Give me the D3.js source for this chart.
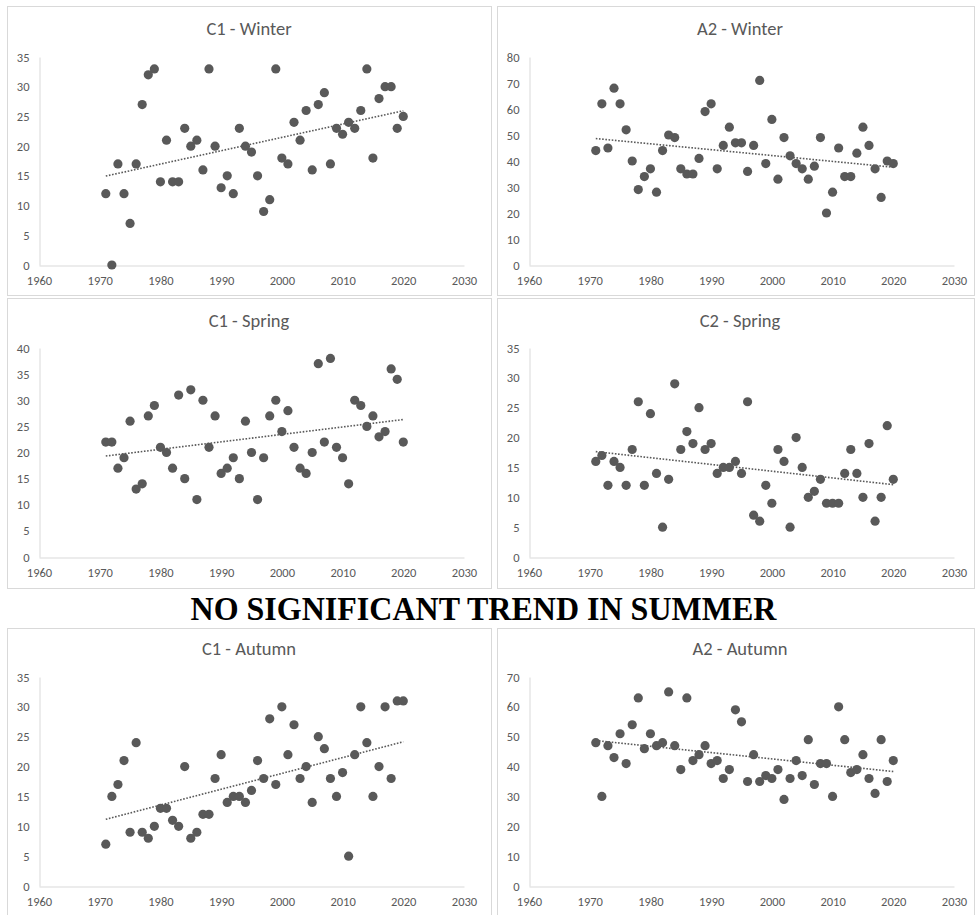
<!DOCTYPE html>
<html>
<head>
<meta charset="utf-8">
<script src="https://cdn.jsdelivr.net/npm/d3@7"></script>
<style>
  body { margin: 0; background: #fff; }
</style>
</head>
<body>
<svg id="chart"></svg>
<script>
// Data
const years = [1971, 1972, 1973, 1974, 1975, 1976, 1977, 1978, 1979, 1980,
  1981, 1982, 1983, 1984, 1985, 1986, 1987, 1988, 1989, 1990,
  1991, 1992, 1993, 1994, 1995, 1996, 1997, 1998, 1999, 2000,
  2001, 2002, 2003, 2004, 2005, 2006, 2007, 2008, 2009, 2010,
  2011, 2012, 2013, 2014, 2015, 2016, 2017, 2018, 2019, 2020];

const c1Winter = [12, 0, 17, 12, 7, 17, 27, 32, 33, 14,
  21, 14, 14, 23, 20, 21, 16, 33, 20, 13,
  15, 12, 23, 20, 19, 15, 9, 11, 33, 18,
  17, 24, 21, 26, 16, 27, 29, 17, 23, 22,
  24, 23, 26, 33, 18, 28, 30, 30, 23, 25];

const a2Winter = [44, 62, 45, 68, 62, 52, 40, 29, 34, 37,
  28, 44, 50, 49, 37, 35, 35, 41, 59, 62,
  37, 46, 53, 47, 47, 36, 46, 71, 39, 56,
  33, 49, 42, 39, 37, 33, 38, 49, 20, 28,
  45, 34, 34, 43, 53, 46, 37, 26, 40, 39];

const c1Spring = [22, 22, 17, 19, 26, 13, 14, 27, 29, 21,
  20, 17, 31, 15, 32, 11, 30, 21, 27, 16,
  17, 19, 15, 26, 20, 11, 19, 27, 30, 24,
  28, 21, 17, 16, 20, 37, 22, 38, 21, 19,
  14, 30, 29, 25, 27, 23, 24, 36, 34, 22];

const c2Spring = [16, 17, 12, 16, 15, 12, 18, 26, 12, 24,
  14, 5, 13, 29, 18, 21, 19, 25, 18, 19,
  14, 15, 15, 16, 14, 26, 7, 6, 12, 9,
  18, 16, 5, 20, 15, 10, 11, 13, 9, 9,
  9, 14, 18, 14, 10, 19, 6, 10, 22, 13];

const c1Autumn = [7, 15, 17, 21, 9, 24, 9, 8, 10, 13,
  13, 11, 10, 20, 8, 9, 12, 12, 18, 22,
  14, 15, 15, 14, 16, 21, 18, 28, 17, 30,
  22, 27, 18, 20, 14, 25, 23, 18, 15, 19,
  5, 22, 30, 24, 15, 20, 30, 18, 31, 31];

const a2Autumn = [48, 30, 47, 43, 51, 41, 54, 63, 46, 51,
  47, 48, 65, 47, 39, 63, 42, 44, 47, 41,
  42, 36, 39, 59, 55, 35, 44, 35, 37, 36,
  39, 29, 36, 42, 37, 49, 34, 41, 41, 30,
  60, 49, 38, 39, 44, 36, 31, 49, 35, 42];

const panelTitles = ["C1 - Winter", "A2 - Winter", "C1 - Spring", "C2 - Spring", "C1 - Autumn", "A2 - Autumn"];
const panelSeries = [c1Winter, a2Winter, c1Spring, c2Spring, c1Autumn, a2Autumn];
const yMaxes = [35, 80, 40, 35, 35, 70];
const yStepSizes = [5, 10, 5, 5, 5, 10];
const xTicks = [1960, 1970, 1980, 1990, 2000, 2010, 2020, 2030];
const noteText = "NO SIGNIFICANT TREND IN SUMMER";

const width = 975;
const height = 915;
const grey = "#595959";
const lineGrey = "#d9d9d9";
const labelFont = "Carlito, Calibri, Lato, sans-serif";

// panel geometry (columns / rows)
const cols = [
  { boxX: 7, boxW: 484, x0: 39, x1: 464, titleX: 249 },
  { boxX: 497, boxW: 477, x0: 529, x1: 954, titleX: 740 }
];
const rows = [
  { boxY: 6, boxH: 289, top: 57, bottom: 265, titleY: 35 },
  { boxY: 298, boxH: 290, top: 348, bottom: 557, titleY: 327 },
  { boxY: 628, boxH: 300, top: 677, bottom: 886, titleY: 655 }
];

const svg = d3.select("#chart")
  .attr("width", width)
  .attr("height", height)
  .style("display", "block");

svg.append("rect")
  .attr("width", width)
  .attr("height", height)
  .attr("fill", "#fff");

function linearFit(xs, ys) {
  const mx = d3.mean(xs);
  const my = d3.mean(ys);
  let num = 0, den = 0;
  xs.forEach((x, i) => {
    num += (x - mx) * (ys[i] - my);
    den += (x - mx) * (x - mx);
  });
  const slope = num / den;
  return x => my + slope * (x - mx);
}

function drawPanel(index) {
  const col = cols[index % 2];
  const row = rows[Math.floor(index / 2)];
  const values = panelSeries[index];

  const g = svg.append("g");

  // chart border
  g.append("rect")
    .attr("x", col.boxX + 0.5)
    .attr("y", row.boxY + 0.5)
    .attr("width", col.boxW)
    .attr("height", row.boxH)
    .attr("fill", "#fff")
    .attr("stroke", lineGrey)
    .attr("stroke-width", 1);

  const x = d3.scaleLinear().domain([1960, 2030]).range([col.x0, col.x1]);
  const y = d3.scaleLinear().domain([0, yMaxes[index]]).range([row.bottom, row.top]);

  // title
  g.append("text")
    .attr("x", col.titleX)
    .attr("y", row.titleY)
    .attr("text-anchor", "middle")
    .attr("font-family", labelFont)
    .attr("font-size", 18.5)
    .attr("fill", grey)
    .text(panelTitles[index]);

  // y axis
  const yTicks = d3.range(0, yMaxes[index] + 1, yStepSizes[index]);
  const yAxis = g.append("g")
    .attr("transform", `translate(${col.x0 + 0.5},0)`)
    .call(d3.axisLeft(y).tickValues(yTicks).tickSize(0).tickPadding(10));
  yAxis.select(".domain").attr("stroke", lineGrey);
  yAxis.selectAll("text")
    .attr("font-family", labelFont)
    .attr("font-size", 12.5)
    .attr("fill", grey);

  // x axis
  const xAxis = g.append("g")
    .attr("transform", `translate(0,${row.bottom + 0.5})`)
    .call(d3.axisBottom(x).tickValues(xTicks).tickFormat(d3.format("d")).tickSize(0).tickPadding(11));
  xAxis.select(".domain").attr("stroke", lineGrey);
  xAxis.selectAll("text")
    .attr("font-family", labelFont)
    .attr("font-size", 12.5)
    .attr("fill", grey);

  // linear trendline, dotted
  const fit = linearFit(years, values);
  const xFirst = d3.min(years);
  const xLast = d3.max(years);
  g.append("line")
    .attr("x1", x(xFirst))
    .attr("y1", y(fit(xFirst)))
    .attr("x2", x(xLast))
    .attr("y2", y(fit(xLast)))
    .attr("stroke", grey)
    .attr("stroke-width", 1.6)
    .attr("stroke-dasharray", "1.6,1.6");

  // markers
  g.selectAll("circle")
    .data(years.map((yr, i) => ({ yr, v: values[i] })))
    .enter()
    .append("circle")
    .attr("cx", d => x(d.yr))
    .attr("cy", d => y(d.v))
    .attr("r", 4.6)
    .attr("fill", grey);
}

panelTitles.forEach((t, i) => drawPanel(i));

// note between the rows
svg.append("text")
  .attr("x", 190.5)
  .attr("y", 620)
  .attr("font-family", "'Liberation Serif', 'Times New Roman', serif")
  .attr("font-weight", "bold")
  .attr("font-size", 34)
  .attr("textLength", 586)
  .attr("lengthAdjust", "spacingAndGlyphs")
  .attr("fill", "#000")
  .text(noteText);
</script>
</body>
</html>
